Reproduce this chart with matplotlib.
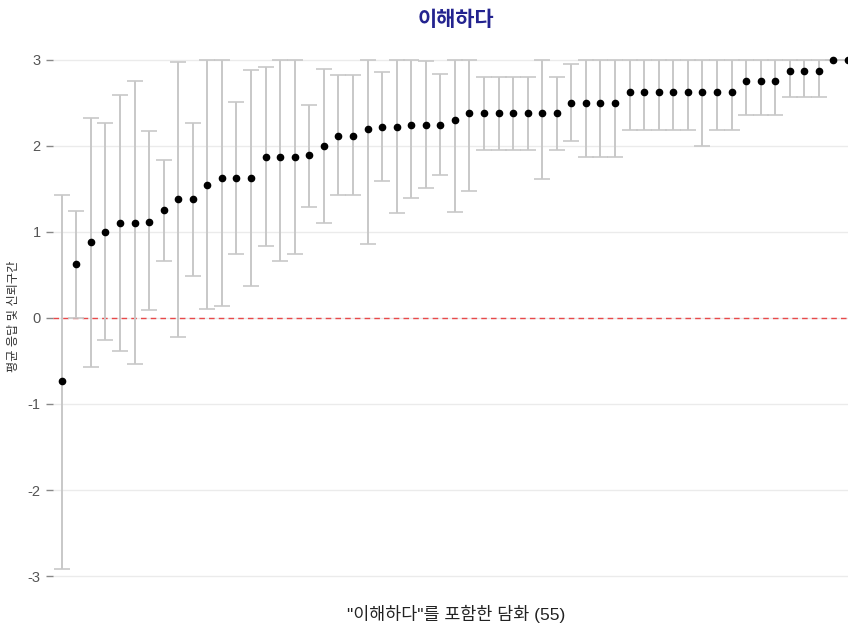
import matplotlib.pyplot as plt
import numpy as np

plt.rcParams['font.family'] = ['Liberation Sans', 'Noto Sans CJK KR', 'DejaVu Sans']
plt.rcParams['axes.unicode_minus'] = False

# 평균 응답 (sorted) and confidence interval bounds, 55 dialogues
means = [-0.73, 0.63, 0.88, 1.00, 1.10, 1.11, 1.12, 1.26, 1.38, 1.38,
         1.55, 1.63, 1.63, 1.63, 1.87, 1.87, 1.87, 1.89, 2.00, 2.12,
         2.12, 2.20, 2.22, 2.22, 2.24, 2.24, 2.24, 2.30, 2.38, 2.38,
         2.38, 2.38, 2.38, 2.38, 2.38, 2.50, 2.50, 2.50, 2.50, 2.63,
         2.63, 2.63, 2.63, 2.63, 2.63, 2.63, 2.63, 2.75, 2.75, 2.75,
         2.87, 2.87, 2.87, 3.00, 3.00]
upper = [1.43, 1.24, 2.32, 2.27, 2.59, 2.76, 2.17, 1.84, 2.98, 2.27,
         3.00, 3.00, 2.51, 2.88, 2.92, 3.00, 3.00, 2.48, 2.89, 2.83,
         2.83, 3.00, 2.86, 3.00, 3.00, 2.99, 2.84, 3.00, 3.00, 2.80,
         2.80, 2.80, 2.80, 3.00, 2.80, 2.95, 3.00, 3.00, 3.00, 3.00,
         3.00, 3.00, 3.00, 3.00, 3.00, 3.00, 3.00, 3.00, 3.00, 3.00,
         3.00, 3.00, 3.00, 3.00, 3.00]
lower = [-2.92, 0.00, -0.57, -0.26, -0.38, -0.53, 0.09, 0.66, -0.22, 0.49,
         0.11, 0.14, 0.74, 0.37, 0.84, 0.66, 0.74, 1.29, 1.11, 1.43,
         1.43, 0.86, 1.59, 1.22, 1.39, 1.51, 1.66, 1.23, 1.48, 1.95,
         1.95, 1.95, 1.95, 1.61, 1.95, 2.06, 1.87, 1.87, 1.87, 2.19,
         2.19, 2.19, 2.19, 2.19, 2.00, 2.19, 2.19, 2.36, 2.36, 2.36,
         2.57, 2.57, 2.57, 3.00, 3.00]

x = np.arange(1, len(means) + 1)
means = np.array(means)
yerr = [means - np.array(lower), np.array(upper) - means]

fig = plt.figure(figsize=(8.48, 6.23), dpi=100)
ax = fig.add_axes([0.0625, 0.0547, 0.9375, 0.856])

ax.errorbar(x, means, yerr=yerr, fmt='none', ecolor='#c8c8c8',
            elinewidth=1.4, capsize=5.5, capthick=1.2, zorder=2)
ax.plot(x, means, 'o', color='black', markersize=4.5, zorder=3)
ax.axhline(0, color='#e8494a', linestyle=(0, (4, 3)), linewidth=1, zorder=1)

ax.set_xlim(0.4, 55)
ax.set_ylim(-3.15, 3.05)
ax.set_yticks([-3, -2, -1, 0, 1, 2, 3])
ax.set_xticks([])
ax.grid(axis='y', color='#ebebeb', linewidth=1)
ax.set_axisbelow(True)
for s in ax.spines.values():
    s.set_visible(False)
ax.tick_params(axis='y', length=5, width=1, color='#888888',
               labelcolor='#555555', labelsize=10.5, pad=4)

fig.text(0.538, 0.014, '"이해하다"를 포함한 담화 (55)', ha='center', va='center',
         fontsize=12.5, color='#222222')
fig.text(0.017, 0.493, '평균 응답 및 신뢰구간', ha='center', va='center',
         rotation=90, fontsize=8.8, color='#333333')
fig.text(0.537, 0.967, '이해하다', ha='center', va='center', fontsize=15,
         fontweight='bold', color='#23238f')

plt.savefig('out.png', dpi=100)
